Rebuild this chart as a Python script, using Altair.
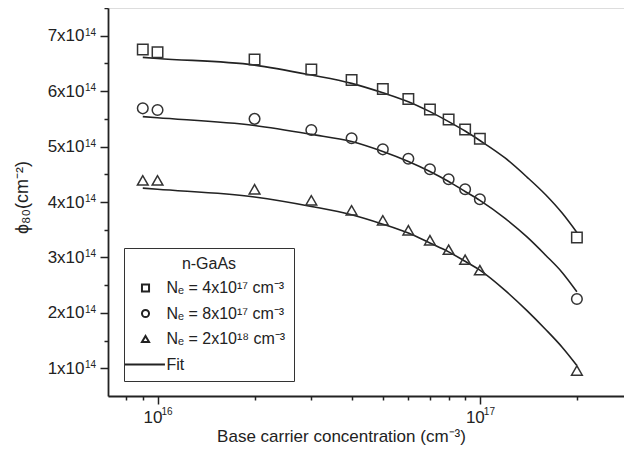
import altair as alt
import pandas as pd

# Measured points (phi_80 in units of 1e14 cm^-2)
x_pts = [9e15, 1e16, 2e16, 3e16, 4e16, 5e16, 6e16, 7e16, 8e16, 9e16, 1e17, 2e17]
phi_sq = [6.75, 6.70, 6.57, 6.39, 6.20, 6.04, 5.86, 5.67, 5.49, 5.31, 5.14, 3.36]
phi_ci = [5.69, 5.66, 5.50, 5.30, 5.15, 4.95, 4.78, 4.59, 4.41, 4.23, 4.05, 2.25]
phi_tr = [4.39, 4.39, 4.23, 4.03, 3.85, 3.67, 3.49, 3.31, 3.14, 2.96, 2.77, 0.96]

# Fit curves
x_fit = [9e15, 1e16, 2e16, 3e16, 4e16, 5e16, 6e16, 7e16, 8e16, 9e16, 1e17,
         1.2e17, 1.4e17, 1.6e17, 1.8e17, 2e17]
fit_sq = [6.61, 6.59, 6.47, 6.29, 6.14, 5.97, 5.81, 5.63, 5.45, 5.28, 5.11,
          4.79, 4.45, 4.13, 3.80, 3.45]
fit_ci = [5.54, 5.52, 5.38, 5.22, 5.09, 4.91, 4.73, 4.55, 4.37, 4.19, 4.03,
          3.70, 3.37, 3.04, 2.73, 2.38]
fit_tr = [4.25, 4.23, 4.09, 3.92, 3.77, 3.60, 3.44, 3.26, 3.10, 2.93, 2.77,
          2.40, 2.04, 1.70, 1.38, 1.05]

labels = ["Nₑ = 4x10¹⁷ cm⁻³", "Nₑ = 8x10¹⁷ cm⁻³", "Nₑ = 2x10¹⁸ cm⁻³"]
fit_label = "Fit"

y_major = [1e14, 2e14, 3e14, 4e14, 5e14, 6e14, 7e14]
y_exp = "14"
y_minor = [1.5e14, 2.5e14, 3.5e14, 4.5e14, 5.5e14, 6.5e14, 7.5e14]
x_major = [1e16, 1e17]
x_exp = ["16", "17"]
x_minor = [8e15, 9e15, 2e16, 3e16, 4e16, 5e16, 6e16, 7e16, 8e16, 9e16, 2e17]

pts = pd.concat([
    pd.DataFrame({"x": x_pts, "y": [v * 1e14 for v in vals], "series": lab})
    for vals, lab in zip([phi_sq, phi_ci, phi_tr], labels)
])
fits = pd.concat([
    pd.DataFrame({"x": x_fit, "y": [v * 1e14 for v in vals], "series": lab})
    for vals, lab in zip([fit_sq, fit_ci, fit_tr], labels)
])

FONT = "Liberation Sans"
INK = "#222"
W, H = 516, 388
xscale = alt.Scale(type="log", domain=[7.02e15, 2.8e17], nice=False)
yscale = alt.Scale(domain=[0.5e14, 7.5e14], nice=False, zero=False)

lines = alt.Chart(fits).mark_line(color=INK, strokeWidth=1.6, interpolate="monotone").encode(
    x=alt.X("x:Q", scale=xscale, axis=alt.Axis(
        values=x_major, labelExpr="'10'", labelOffset=-5,
        title="Base carrier concentration (cm⁻³)", titleFontSize=17, titleFontWeight="normal",
        titleX=233, titleY=32, titleBaseline="top", labelFontSize=17, labelPadding=5,
        tickSize=8, tickWidth=1.5, domainWidth=1.8, domainColor=INK, tickColor=INK,
        labelColor=INK, titleColor=INK, grid=False, orient="bottom",
        labelFont=FONT, titleFont=FONT)),
    y=alt.Y("y:Q", scale=yscale, axis=alt.Axis(
        values=y_major, labelExpr="format(datum.value / 1e14, 'd') + 'x10'",
        title="ϕ₈₀(cm⁻²)", titleFontSize=18, titleFontWeight="normal",
        titleX=-86, titleY=189, titleAlign="center", titleBaseline="middle", titleAngle=270,
        labelFontSize=17, labelPadding=16, tickSize=8, tickWidth=1.5, domainWidth=1.8,
        domainColor=INK, tickColor=INK, labelColor=INK, titleColor=INK,
        grid=False, orient="left", labelFont=FONT, titleFont=FONT)),
    detail="series:N",
)

points = alt.Chart(pts).mark_point(filled=False, strokeWidth=1.5, color="#333", opacity=1).encode(
    x=alt.X("x:Q", scale=xscale, axis=alt.Axis(
        values=x_minor, labels=False, title=None, domain=False, tickSize=4, tickWidth=1.5,
        tickColor=INK, grid=False, orient="bottom")),
    y=alt.Y("y:Q", scale=yscale, axis=alt.Axis(
        values=y_minor, labels=False, title=None, domain=False, tickSize=4, tickWidth=1.5,
        tickColor=INK, grid=False, orient="left")),
    shape=alt.Shape("series:N", scale=alt.Scale(
        domain=labels + [fit_label],
        range=["square", "circle", "triangle-up", "M -5.8 0 L 5.5 0"]),
        legend=alt.Legend(
            title="n-GaAs", orient="none", legendX=16, legendY=240,
            strokeColor="#333", padding=8, titleFontSize=16, titleFontWeight="normal",
            titleAnchor="middle", titleAlign="center", titlePadding=8, titleColor=INK,
            labelFontSize=16, labelColor=INK, labelOffset=13, symbolOffset=5.5,
            symbolSize=50, symbolStrokeWidth=2, symbolStrokeColor=INK,
            symbolFillColor="transparent", rowPadding=9.5, labelFont=FONT, titleFont=FONT)),
    size=alt.Size("series:N", scale=alt.Scale(domain=labels, range=[110, 115, 175]), legend=None),
)

# exponents of the tick labels
yexp = alt.Chart(pd.DataFrame({"v": y_major})).mark_text(
    align="right", baseline="top", fontSize=10, dy=-8, color=INK, font=FONT
).encode(
    y=alt.Y("v:Q", scale=yscale, axis=None),
    x=alt.value(-12),
    text=alt.value(y_exp),
)
xexp = alt.Chart(pd.DataFrame({"v": x_major, "t": x_exp})).mark_text(
    align="left", baseline="top", fontSize=10, dx=4, color=INK, font=FONT
).encode(
    x=alt.X("v:Q", scale=xscale, axis=None),
    y=alt.value(H + 11),
    text="t:N",
)

chart = alt.layer(lines, points, yexp, xexp).resolve_axis(
    x="independent", y="independent"
).properties(
    width=W, height=H,
    autosize=alt.AutoSizeParams(type="none"),
    padding={"left": 100, "top": 0, "right": 0, "bottom": 52},
).configure_view(strokeWidth=0).configure(font=FONT)

chart.save("out.html", embed_options={"renderer": "svg", "actions": False})
